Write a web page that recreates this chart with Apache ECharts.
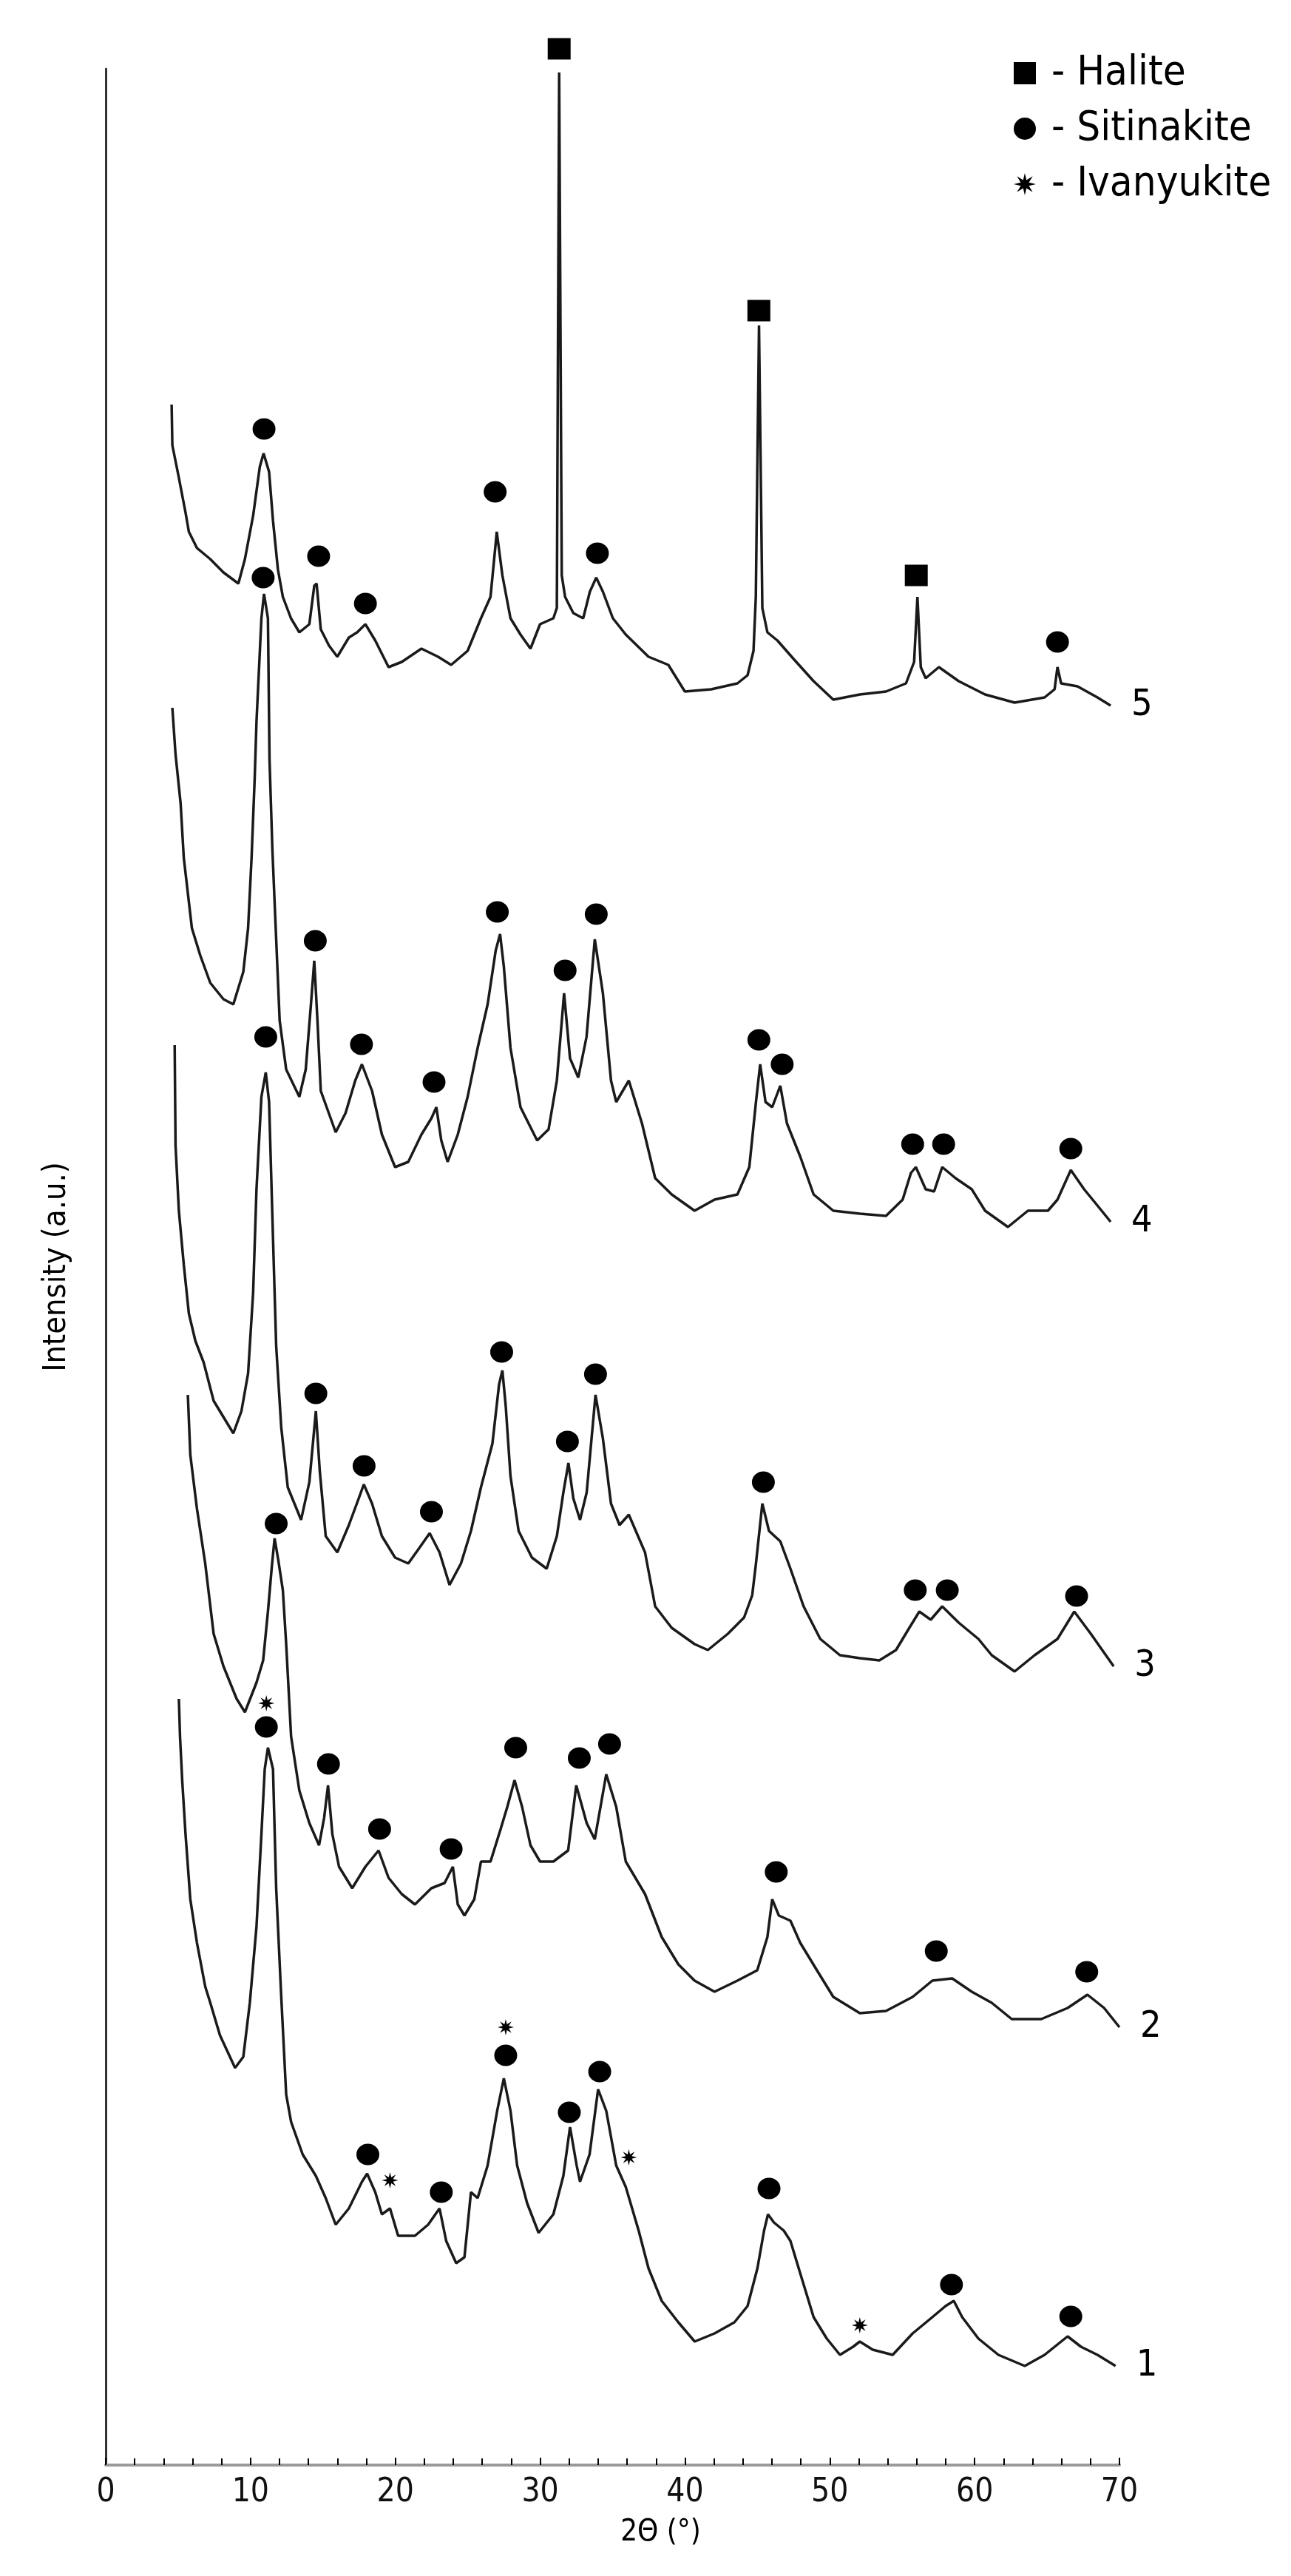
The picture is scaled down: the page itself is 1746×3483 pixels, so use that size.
<!DOCTYPE html>
<html>
<head>
<meta charset="utf-8">
<title>XRD patterns</title>
<script src="https://cdn.jsdelivr.net/npm/echarts@6.0.0/dist/echarts.min.js"></script>
<style>
  html, body { margin: 0; padding: 0; background: #fff; }
  #xrd_chart { width: 1746px; height: 3483px; }
</style>
</head>
<body>
<div id="xrd_chart"></div>
<script>
// 2theta (deg), intensity (a.u., curves stacked with offsets)
var pattern5 = [[4.55,278.6],[4.60,273.1],[5.05,268.7],[5.51,264.0],[5.74,261.4],[6.30,259.2],[7.22,257.7],[8.13,255.9],[9.16,254.4],[9.61,257.7],[10.18,263.6],[10.64,270.2],[10.90,272.0],[11.28,269.5],[11.55,262.9],[11.89,256.3],[12.23,252.6],[12.79,249.7],[13.37,247.8],[14.06,248.9],[14.40,254.1],[14.56,254.4],[14.85,248.2],[15.42,246.0],[15.99,244.5],[16.79,247.1],[17.36,247.8],[17.93,248.9],[18.61,246.7],[19.53,243.1],[20.44,243.8],[21.80,245.6],[22.95,244.5],[23.85,243.4],[24.99,245.3],[25.91,249.7],[26.57,252.6],[26.93,259.9],[27.00,261.4],[27.39,255.5],[27.95,249.7],[28.64,247.5],[29.33,245.6],[29.99,248.9],[30.91,249.7],[31.15,251.1],[31.31,323.5],[31.49,255.5],[31.72,252.6],[32.29,250.4],[32.97,249.7],[33.43,253.3],[33.87,255.2],[34.33,253.3],[35.02,249.7],[35.91,247.5],[37.48,244.5],[38.85,243.4],[39.99,239.8],[41.81,240.1],[43.62,240.9],[44.32,242.0],[44.73,245.3],[44.89,252.6],[45.11,289.3],[45.34,251.1],[45.69,247.8],[46.38,246.7],[47.50,244.2],[48.88,241.2],[50.24,238.7],[52.07,239.4],[53.88,239.8],[55.26,240.9],[55.82,243.8],[56.05,252.6],[56.28,243.1],[56.62,241.6],[57.53,243.1],[58.90,241.2],[60.72,239.4],[62.76,238.3],[64.83,239.0],[65.52,240.1],[65.72,243.1],[65.97,240.9],[67.10,240.5],[68.48,239.0],[69.39,237.9]];

var pattern4 = [[4.60,237.6],[4.82,231.3],[5.17,224.7],[5.39,217.3],[5.95,207.8],[6.53,204.1],[7.22,200.4],[8.13,198.2],[8.81,197.5],[9.50,201.9],[9.83,207.8],[10.07,217.3],[10.29,228.3],[10.41,235.7],[10.75,249.7],[10.93,253.0],[11.20,249.7],[11.31,230.6],[11.51,218.3],[11.77,206.3],[12.01,195.3],[12.46,188.7],[13.37,185.0],[13.81,188.7],[14.17,197.5],[14.40,203.4],[14.62,195.3],[14.85,185.8],[15.88,180.2],[16.56,182.8],[17.23,187.2],[17.69,189.4],[18.39,185.8],[19.07,179.9],[19.98,175.5],[20.89,176.2],[21.80,179.9],[22.49,182.1],[22.83,183.6],[23.17,179.1],[23.61,176.2],[24.31,179.9],[24.99,185.0],[25.68,191.6],[26.37,197.5],[26.93,204.8],[27.23,207.0],[27.49,202.6],[27.95,191.6],[28.64,183.6],[29.79,179.1],[30.58,180.6],[31.15,187.2],[31.65,199.0],[32.06,190.2],[32.63,187.6],[33.20,193.1],[33.77,206.3],[34.33,199.0],[34.89,187.2],[35.25,184.3],[36.12,187.2],[37.03,181.4],[37.94,174.0],[39.08,171.8],[40.66,169.6],[42.04,171.1],[43.62,171.8],[44.44,175.5],[44.90,184.3],[45.19,189.4],[45.56,184.3],[46.02,183.6],[46.58,186.5],[47.04,181.4],[47.96,176.9],[48.88,171.8],[50.24,169.6],[52.07,169.2],[53.88,168.9],[55.03,171.1],[55.60,174.7],[55.94,175.5],[56.62,172.5],[57.20,172.2],[57.76,175.5],[58.68,174.0],[59.80,172.5],[60.72,169.6],[62.30,167.4],[63.68,169.6],[65.06,169.6],[65.72,171.1],[66.64,175.1],[67.56,172.5],[68.48,170.3],[69.39,168.1]];

var pattern3 = [[4.76,192.0],[4.82,178.4],[5.05,169.6],[5.39,162.3],[5.74,155.7],[6.19,152.0],[6.76,149.1],[7.45,143.9],[8.13,141.7],[8.81,139.5],[9.37,142.5],[9.83,147.6],[10.18,158.6],[10.41,172.5],[10.75,185.0],[11.05,188.3],[11.28,184.3],[11.55,165.9],[11.77,151.3],[12.12,140.3],[12.57,132.2],[13.49,127.8],[14.06,132.9],[14.51,142.5],[14.78,134.4],[15.19,125.6],[15.99,123.4],[16.79,127.1],[17.47,130.7],[17.82,132.6],[18.39,130.0],[19.07,125.6],[19.98,122.7],[20.89,121.9],[21.69,124.1],[22.37,126.0],[23.05,123.4],[23.74,119.0],[24.53,121.9],[25.22,126.3],[25.91,132.2],[26.70,138.1],[27.16,146.1],[27.39,148.0],[27.62,143.2],[27.95,133.7],[28.51,126.3],[29.43,122.7],[30.45,121.2],[31.15,125.6],[31.60,131.5],[31.95,135.5],[32.29,130.7],[32.75,127.8],[33.21,131.5],[33.82,144.7],[34.33,138.8],[34.89,130.0],[35.48,127.1],[36.12,128.5],[37.24,123.4],[37.94,116.1],[39.08,113.2],[40.66,111.0],[41.58,110.2],[42.96,112.4],[44.08,114.6],[44.64,117.6],[44.90,121.9],[45.34,130.0],[45.80,126.3],[46.58,124.9],[47.28,121.2],[48.19,116.1],[49.34,111.7],[50.70,109.5],[52.07,109.1],[53.42,108.8],[54.57,110.2],[55.49,113.2],[56.18,115.4],[56.97,114.3],[57.76,116.1],[58.90,113.9],[60.26,111.7],[61.18,109.5],[62.76,107.3],[64.14,109.5],[65.72,111.7],[66.88,115.4],[68.02,112.4],[69.60,108.0]];

var pattern2 = [[5.67,144.7],[5.84,136.6],[6.30,129.3],[6.87,121.9],[7.45,112.4],[8.13,108.0],[9.04,103.6],[9.61,101.8],[10.41,105.8],[10.87,108.8],[11.20,115.4],[11.46,121.3],[11.66,125.3],[11.92,122.3],[12.23,118.3],[12.46,111.0],[12.80,98.5],[13.37,91.2],[14.06,86.8],[14.73,83.8],[15.08,87.5],[15.35,91.9],[15.65,85.3],[16.11,80.9],[17.02,78.0],[17.93,80.9],[18.84,83.1],[19.53,79.4],[20.44,77.2],[21.35,75.8],[22.49,78.0],[23.40,78.7],[23.97,80.9],[24.31,75.8],[24.77,74.3],[25.45,76.5],[25.91,81.6],[26.57,81.6],[27.27,86.0],[27.73,89.0],[28.23,92.6],[28.75,89.0],[29.33,83.8],[29.99,81.6],[30.91,81.6],[31.93,83.1],[32.49,91.9],[33.21,86.8],[33.77,84.6],[34.56,93.4],[35.25,89.0],[35.91,81.6],[37.24,77.2],[38.39,71.4],[39.54,67.7],[40.66,65.5],[42.04,64.0],[43.62,65.5],[44.99,66.9],[45.69,71.4],[46.02,76.5],[46.48,74.3],[47.28,73.6],[47.96,70.6],[49.11,66.9],[50.24,63.3],[52.07,61.1],[53.88,61.4],[55.72,63.3],[57.08,65.5],[58.45,65.8],[59.80,64.0],[61.18,62.5],[62.56,60.3],[64.60,60.3],[66.42,61.8],[67.79,63.6],[68.94,61.8],[70.00,59.2]];

var pattern1 = [[5.05,103.6],[5.13,98.5],[5.28,92.6],[5.51,85.3],[5.84,76.5],[6.30,70.6],[6.87,64.7],[7.22,62.5],[7.89,58.1],[8.93,53.7],[9.50,55.2],[9.95,62.5],[10.41,72.8],[10.75,85.3],[10.98,94.1],[11.20,97.0],[11.55,94.1],[11.77,78.0],[12.12,63.3],[12.46,50.1],[12.80,46.4],[13.60,42.0],[14.51,39.1],[15.19,36.1],[15.88,32.5],[16.79,34.7],[17.69,38.3],[18.05,39.4],[18.61,36.9],[19.07,33.9],[19.63,34.7],[20.19,31.0],[21.35,31.0],[22.26,32.5],[23.05,34.7],[23.51,30.3],[24.20,27.3],[24.77,28.1],[25.22,36.9],[25.68,36.1],[26.37,40.5],[27.03,47.9],[27.49,52.3],[27.95,47.9],[28.41,40.5],[29.10,35.4],[29.89,31.4],[30.91,33.9],[31.60,39.1],[32.06,45.7],[32.52,40.5],[32.75,38.3],[33.41,42.0],[34.00,50.8],[34.56,47.9],[35.25,40.5],[35.91,37.6],[36.80,31.7],[37.48,26.6],[38.39,22.2],[39.54,19.3],[40.67,16.7],[42.04,17.8],[43.41,19.3],[44.32,21.5],[45.00,26.6],[45.46,31.7],[45.73,33.9],[46.14,32.8],[46.82,31.7],[47.28,30.3],[47.96,25.9],[48.88,20.0],[49.79,17.1],[50.70,14.9],[51.61,16.0],[52.07,16.7],[52.96,15.6],[54.34,14.9],[55.72,17.8],[57.08,20.0],[57.99,21.5],[58.56,22.2],[59.14,20.0],[60.26,17.1],[61.64,14.9],[63.46,13.4],[64.83,14.9],[65.72,16.3],[66.42,17.4],[67.34,16.0],[68.48,14.9],[69.73,13.4]];

// phase marks
var haliteMarks = [[31.31,326.7],[45.10,291.3],[55.97,255.5]];
var sitinakiteMarks = [
    [10.93,275.3],[14.70,258.1],[17.93,251.7],[26.89,266.8],[33.95,258.5],[65.72,246.5],
    [10.87,255.2],[14.47,206.1],[17.66,192.1],[22.67,187.0],[27.04,210.0],[31.72,202.1],[33.87,209.7],[45.10,192.7],[46.71,189.4],[55.72,178.6],[57.86,178.6],[66.64,178.0],
    [11.05,193.1],[14.51,144.9],[17.84,135.1],[22.49,128.9],[27.34,150.5],[31.88,138.4],[33.82,147.5],[45.41,132.9],[55.90,118.3],[58.11,118.3],[67.04,117.5],
    [11.77,127.3],[15.38,94.8],[18.91,86.0],[23.85,83.3],[28.31,97.0],[32.70,95.6],[34.79,97.5],[46.30,80.2],[57.35,69.5],[67.74,66.7],
    [11.09,99.8],[18.10,42.0],[23.17,36.9],[27.62,55.4],[32.01,47.7],[34.11,53.2],[45.80,37.4],[58.40,24.4],[66.64,20.1]
];
var ivanyukiteMarks = [[11.09,103.0],[19.63,38.5],[27.62,59.2],[36.12,41.6],[52.07,18.9]];

var patternNames = ['1', '2', '3', '4', '5'];
var patterns = [pattern1, pattern2, pattern3, pattern4, pattern5];

var starPath = 'path://M20,10 L13.7,11.5 L17.1,17.1 L11.5,13.7 L10,20 L8.5,13.7 L2.9,17.1 L6.3,11.5 L0,10 L6.3,8.5 L2.9,2.9 L8.5,6.3 L10,0 L11.5,6.3 L17.1,2.9 L13.7,8.5 Z';
var textFont = '"DejaVu Sans Condensed", "DejaVu Sans", sans-serif';

var dom = document.getElementById('xrd_chart');
var myChart = echarts.init(dom);

var series = patterns.map(function (p, i) {
    return {
        name: 'pattern ' + patternNames[i],
        type: 'line',
        data: p,
        showSymbol: false,
        clip: false,
        lineStyle: { color: '#1a1a1a', width: 3.5 },
        endLabel: {
            show: true,
            formatter: patternNames[i],
            distance: 28,
            fontSize: 50,
            fontFamily: textFont,
            color: '#000'
        },
        silent: true,
        z: 2
    };
});

// marks are solid black in the figure
var markStyle = { color: '#000', opacity: 1 };

series.push({
    name: 'Halite',
    type: 'scatter',
    data: haliteMarks,
    symbol: 'rect',
    symbolSize: [31, 29],
    clip: false,
    itemStyle: markStyle,
    z: 3
});
series.push({
    name: 'Sitinakite',
    type: 'scatter',
    data: sitinakiteMarks,
    symbol: 'circle',
    symbolSize: [31, 29],
    clip: false,
    itemStyle: markStyle,
    z: 3
});
series.push({
    name: 'Ivanyukite',
    type: 'scatter',
    data: ivanyukiteMarks,
    symbol: starPath,
    symbolSize: 22,
    clip: false,
    itemStyle: markStyle,
    z: 3
});

var option = {
    animation: false,
    backgroundColor: '#fff',
    grid: {
        left: 143,
        right: 232,
        top: 93,
        bottom: 150,
        containLabel: false
    },
    legend: {
        orient: 'vertical',
        left: 1371,
        top: 71,
        padding: 0,
        itemGap: 19,
        itemWidth: 30,
        itemHeight: 30,
        formatter: ' - {name}',
        textStyle: {
            fontSize: 56,
            lineHeight: 56,
            fontFamily: textFont,
            color: '#000'
        },
        data: [
            { name: 'Halite', icon: 'rect', itemStyle: { opacity: 1 } },
            { name: 'Sitinakite', icon: 'circle', itemStyle: { opacity: 1 } },
            { name: 'Ivanyukite', icon: starPath, itemStyle: { opacity: 1 } }
        ]
    },
    xAxis: {
        type: 'value',
        min: 0,
        max: 70,
        interval: 10,
        name: '2Θ (°)',
        nameLocation: 'middle',
        nameGap: 72,
        nameTextStyle: {
            fontSize: 40,
            fontFamily: textFont,
            color: '#000',
            padding: [0, 0, 0, 130]
        },
        axisLine: { show: true, lineStyle: { color: '#9a9a9a', width: 4 } },
        axisTick: { show: true, inside: true, length: 10, lineStyle: { color: '#000', width: 2 } },
        minorTick: { show: true, splitNumber: 5, length: 9, lineStyle: { color: '#000', width: 2 } },
        axisLabel: {
            fontSize: 44,
            margin: 16,
            fontFamily: '"Liberation Sans Narrow", "DejaVu Sans Condensed", sans-serif',
            color: '#111'
        },
        splitLine: { show: false }
    },
    yAxis: {
        type: 'value',
        min: 0,
        max: 324,
        name: 'Intensity (a.u.)',
        nameLocation: 'middle',
        nameGap: 45,
        nameTextStyle: {
            fontSize: 43,
            fontFamily: textFont,
            color: '#000'
        },
        axisLine: { show: true, lineStyle: { color: '#333', width: 3 } },
        axisTick: { show: false },
        axisLabel: { show: false },
        splitLine: { show: false }
    },
    series: series
};

if (option && typeof option === 'object') {
    myChart.setOption(option, true);
}

window.addEventListener('resize', function () {
    myChart.resize();
});
</script>
</body>
</html>
